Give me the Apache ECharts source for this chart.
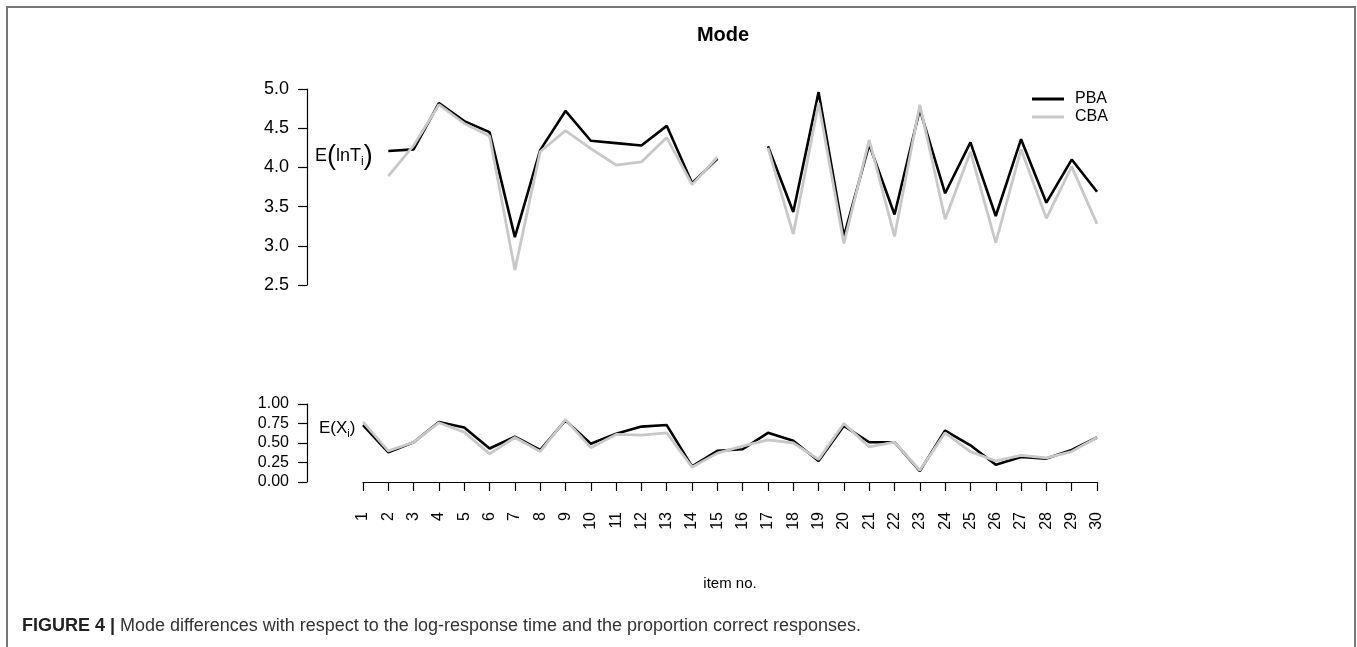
<!DOCTYPE html>
<html>
<head>
<meta charset="utf-8">
<script src="https://cdn.jsdelivr.net/npm/echarts@6/dist/echarts.min.js"></script>
<style>
html,body{margin:0;padding:0;background:#fff;}
#chart{width:1357px;height:647px;}
</style>
</head>
<body>
<div id="chart"></div>
<script>
// Data
var items = ['1','2','3','4','5','6','7','8','9','10','11','12','13','14','15','16','17','18','19','20','21','22','23','24','25','26','27','28','29','30'];
var lnT_PBA = [null,4.21,4.23,4.82,4.59,4.45,3.11,4.22,4.72,4.34,4.31,4.28,4.53,3.80,4.11,null,4.27,3.43,4.96,3.12,4.29,3.40,4.74,3.67,4.32,3.38,4.36,3.55,4.10,3.69];
var lnT_CBA = [null,3.89,4.28,4.80,4.56,4.40,2.69,4.20,4.47,4.24,4.03,4.07,4.38,3.78,4.13,null,4.25,3.15,4.82,3.03,4.35,3.12,4.80,3.34,4.20,3.04,4.23,3.35,4.01,3.28];
var X_PBA = [0.73,0.38,0.51,0.77,0.70,0.43,0.58,0.41,0.79,0.49,0.62,0.71,0.73,0.20,0.40,0.42,0.63,0.53,0.27,0.72,0.51,0.51,0.14,0.66,0.47,0.22,0.32,0.30,0.41,0.57];
var X_CBA = [0.77,0.40,0.51,0.76,0.64,0.36,0.57,0.39,0.80,0.44,0.61,0.60,0.63,0.19,0.37,0.46,0.54,0.50,0.29,0.75,0.45,0.51,0.15,0.63,0.39,0.27,0.34,0.31,0.39,0.57];
var topTicks = {min:2.5, max:5.0, interval:0.5};
var botTicks = {min:0, max:1, interval:0.25};

var FONT = 'Liberation Sans, Arial, Helvetica, sans-serif';
var BLACK = '#000000', GRAY = '#c8c8c8';

var chart = echarts.init(document.getElementById('chart'), null, {renderer:'canvas'});

function yAxisCommon(grid, t, dec, fs){
  return {
    type:'value', gridIndex:grid, min:t.min, max:t.max, interval:t.interval,
    offset:56, position:'left',
    axisLine:{show:true, lineStyle:{color:'#000', width:1.2}},
    axisTick:{show:true, length:9, lineStyle:{color:'#000', width:1.2}},
    axisLabel:{show:true, margin:18, color:'#000', fontFamily:FONT, fontSize:fs,
      formatter:function(v){return v.toFixed(dec);}},
    splitLine:{show:false}
  };
}

var option = {
  backgroundColor:'#fff',
  animation:false,
  title:{
    text:'Mode', left:718, top:20, textAlign:'center',
    textStyle:{fontFamily:FONT, fontWeight:'bold', fontSize:20, color:'#000'}
  },
  legend:{
    orient:'vertical', left:1027, top:86, itemWidth:32, itemHeight:3, itemGap:2,
    icon:'rect',
    textStyle:{fontFamily:FONT, fontSize:16, color:'#000', lineHeight:16, padding:[0,0,0,6]},
    data:[{name:'PBA', itemStyle:{color:BLACK}}, {name:'CBA', itemStyle:{color:GRAY}}]
  },
  grid:[
    {left:363, width:734, top:89, height:196},
    {left:363, width:734, top:404, height:78}
  ],
  xAxis:[
    {type:'category', gridIndex:0, data:items, boundaryGap:false, show:false},
    {type:'category', gridIndex:1, data:items, boundaryGap:false, position:'bottom', offset:16,
      axisLine:{show:true, lineStyle:{color:'#000', width:1.2}},
      axisTick:{show:true, length:9, alignWithLabel:true, interval:0, lineStyle:{color:'#000', width:1.2}},
      axisLabel:{show:true, interval:0, rotate:90, margin:14, color:'#000', fontFamily:FONT, fontSize:16},
      splitLine:{show:false},
      name:'item no.', nameLocation:'middle', nameGap:78,
      nameTextStyle:{fontFamily:FONT, fontSize:15, color:'#000'}
    }
  ],
  yAxis:[
    yAxisCommon(0, topTicks, 1, 18),
    yAxisCommon(1, botTicks, 2, 16)
  ],
  series:[
    {name:'PBA', type:'line', xAxisIndex:0, yAxisIndex:0, data:lnT_PBA, symbol:'none', connectNulls:false,
      lineStyle:{color:BLACK, width:2.6}, itemStyle:{color:BLACK}, z:2},
    {name:'CBA', type:'line', xAxisIndex:0, yAxisIndex:0, data:lnT_CBA, symbol:'none', connectNulls:false,
      lineStyle:{color:GRAY, width:2.8}, itemStyle:{color:GRAY}, z:3},
    {name:'PBA', type:'line', xAxisIndex:1, yAxisIndex:1, data:X_PBA, symbol:'none',
      lineStyle:{color:BLACK, width:2.6}, itemStyle:{color:BLACK}, z:2},
    {name:'CBA', type:'line', xAxisIndex:1, yAxisIndex:1, data:X_CBA, symbol:'none',
      lineStyle:{color:GRAY, width:2.8}, itemStyle:{color:GRAY}, z:3}
  ],
  graphic:[
    {type:'rect', shape:{x:7, y:7, width:1348, height:700}, style:{fill:null, stroke:'#777', lineWidth:2}, silent:true},
    {type:'text', left:315, top:143, style:{
      rich:{
        a:{fontFamily:FONT, fontSize:18, fill:'#000', verticalAlign:'middle', lineHeight:30},
        p:{fontFamily:FONT, fontSize:27, fill:'#000', verticalAlign:'middle', lineHeight:30},
        s:{fontFamily:FONT, fontSize:12, fill:'#000', verticalAlign:'middle', lineHeight:12, padding:[11,0,0,0]}
      },
      text:'{a|E}{p|(}{a|lnT}{s|i}{p|)}'
    }},
    {type:'text', left:319, top:418, style:{
      rich:{
        a:{fontFamily:FONT, fontSize:17, fill:'#000', verticalAlign:'middle', lineHeight:24},
        s:{fontFamily:FONT, fontSize:11, fill:'#000', verticalAlign:'middle', lineHeight:11, padding:[10,0,0,0]}
      },
      text:'{a|E(X}{s|i}{a|)}'
    }},
    {type:'text', left:22, top:617, style:{
      rich:{
        b:{fontFamily:FONT, fontSize:18, fontWeight:'bold', fill:'#222'},
        n:{fontFamily:FONT, fontSize:18, fill:'#333'}
      },
      text:'{b|FIGURE 4 |}{n| Mode differences with respect to the log-response time and the proportion correct responses.}'
    }}
  ]
};
chart.setOption(option);
</script>
</body>
</html>
